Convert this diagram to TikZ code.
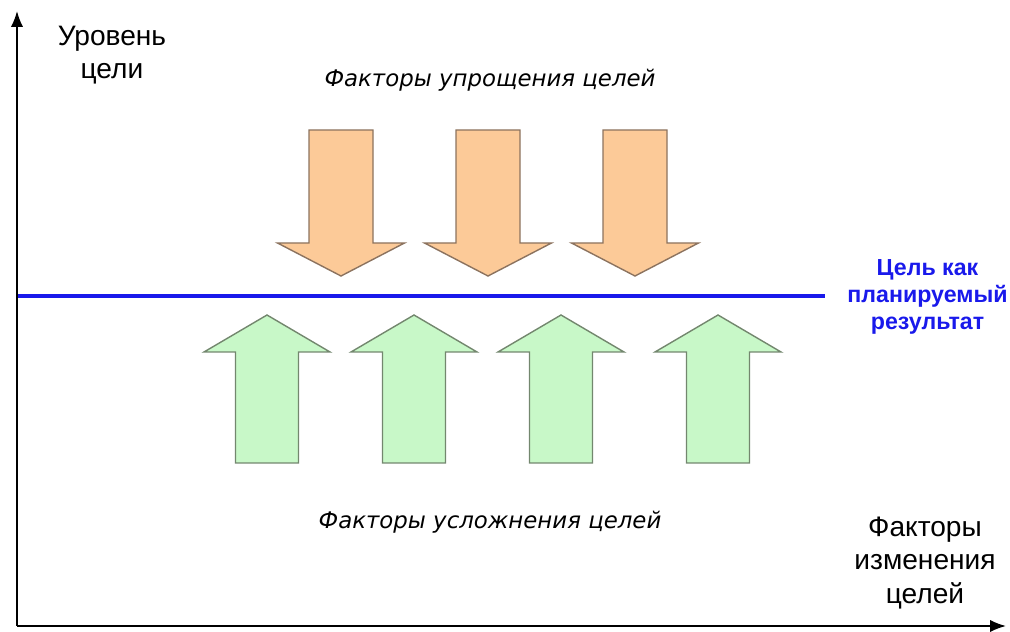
\documentclass[tikz,border=0pt]{standalone}
\usepackage{fontspec}
\setmainfont{Liberation Sans}
\newfontfamily\slfont{DejaVu Sans}
\usetikzlibrary{arrows.meta}
\definecolor{strelkaor}{RGB}{252,202,152}
\definecolor{strelkagr}{RGB}{200,248,200}
\definecolor{kraior}{RGB}{140,115,95}
\definecolor{kraigr}{RGB}{115,135,110}
\definecolor{celblue}{RGB}{25,25,235}

\begin{document}
\begin{tikzpicture}[scale=1,
		os/.style={line width=1.1pt,-{Latex[length=9pt,width=7pt]}},
		vniz/.style={fill=strelkaor,draw=kraior,line width=0.8pt},
		vverh/.style={fill=strelkagr,draw=kraigr,line width=0.8pt},
		podpis/.style={align=center,font=\fontsize{16}{19}\selectfont},
		kursiv/.style={font=\slfont\itshape\fontsize{13}{15}\selectfont}]
				\useasboundingbox (0,0) rectangle (20.2,12.64);
				
				% оси
				\coordinate (O) at (0.34,0.12);
				\coordinate (Yk) at (0.34,12.42);
				\coordinate (Xk) at (20.12,0.12);
				\draw[os] (O) -- (Yk);
				\draw[os] (O) -- (Xk);
				
				% линия цели
				\coordinate (L1) at (0.36,6.72);
				\coordinate (L2) at (16.5,6.72);
				\draw[celblue,line width=2.8pt] (L1) -- (L2);
				
				% стрелки вниз
				\foreach \c in {6.82,9.76,12.70}
				\draw[vniz] (\c-0.64,10.04) -- (\c+0.64,10.04) -- (\c+0.64,7.78) -- (\c+1.27,7.78)
					-- (\c,7.12) -- (\c-1.27,7.78) -- (\c-0.64,7.78) -- cycle;
				
				% стрелки вверх
				\foreach \c in {5.34,8.28,11.22,14.36}
				\draw[vverh] (\c-0.63,3.38) -- (\c+0.63,3.38) -- (\c+0.63,5.60) -- (\c+1.26,5.60)
					-- (\c,6.34) -- (\c-1.26,5.60) -- (\c-0.63,5.60) -- cycle;
				
				% подписи
				\node[podpis] (uroven) at (2.24,11.54) {Уровень\\цели};
				\node[podpis] (faktory) at (18.5,1.38) {Факторы\\изменения\\целей};
				\node[align=center,text=celblue,font=\bfseries\fontsize{13.2}{15.5}\selectfont] (cel) at (18.55,6.7) {Цель как\\планируемый\\результат};
				\node[kursiv] (uproshch) at (9.8,11.04) {Факторы упрощения целей};
				\node[kursiv] (uslozhn) at (9.8,2.2) {Факторы усложнения целей};
				
			\end{tikzpicture}
\end{document}
